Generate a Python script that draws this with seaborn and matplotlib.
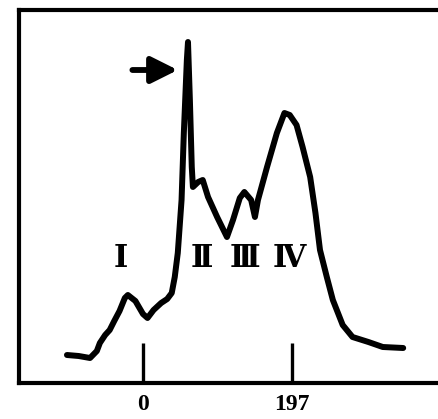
import numpy as np
import pandas as pd
import matplotlib
matplotlib.use("Agg")
import matplotlib.pyplot as plt
import seaborn as sns

# ---- data (channel position vs. arbitrary intensity) ----
channel = [-100.5, -85, -70, -61, -57, -50, -44, -38, -31, -24, -20, -10, 0, 6, 14,
           24, 32, 38, 42, 46, 51, 54, 58, 59.5, 62, 64.5, 66, 73, 79, 86, 98,
           111, 119, 128, 134, 143, 148, 152, 164, 177, 187, 194, 203, 211, 221,
           228, 234, 243, 251, 264, 277, 298, 317, 344]
intensity = [0.28, 0.27, 0.25, 0.32, 0.40, 0.48, 0.53, 0.62, 0.72, 0.85, 0.88, 0.82, 0.69,
             0.65, 0.73, 0.80, 0.84, 0.90, 1.06, 1.30, 1.83, 2.50, 3.23, 3.41, 2.83,
             2.16, 1.96, 2.01, 2.03, 1.86, 1.66, 1.46, 1.63, 1.85, 1.91, 1.83, 1.66,
             1.83, 2.16, 2.50, 2.70, 2.68, 2.58, 2.36, 2.06, 1.70, 1.33, 1.06, 0.83,
             0.58, 0.46, 0.41, 0.36, 0.35]

tick_positions = [0, 197]
tick_labels = ["0", "197"]

peak_names = ["Ⅰ", "Ⅱ", "Ⅲ", "Ⅳ"]
peak_label_x = [-30, 78, 135, 194]
peak_label_y = [1.25, 1.25, 1.25, 1.25]

df = pd.DataFrame({"channel": channel, "intensity": intensity})

sns.set_style("white")
plt.rcParams["font.family"] = ["Liberation Serif", "DejaVu Serif", "DejaVu Sans"]

fig = plt.figure(figsize=(4.38, 4.19), dpi=100)
ax = fig.add_axes([19 / 438, 36 / 419, (438 - 19) / 438, (383 - 10) / 419])

sns.lineplot(data=df, x="channel", y="intensity", sort=False, color="black",
             lw=4.3, ax=ax, solid_capstyle="round", solid_joinstyle="round")

ax.set_xlim(-163.9, 390.0)
ax.set_ylim(0, 3.73)

for side in ["left", "top", "bottom"]:
    ax.spines[side].set_visible(True)
    ax.spines[side].set_linewidth(3.0)
    ax.spines[side].set_color("black")
ax.spines["right"].set_visible(False)

ax.set_xticks(tick_positions)
ax.set_xticklabels(tick_labels, fontsize=17, fontweight="bold",
                   family=["Liberation Serif", "DejaVu Serif"])
ax.tick_params(axis="x", direction="in", length=29, width=2.4, pad=8,
               bottom=True, top=False, colors="black")
ax.set_yticks([])
ax.set_xlabel("")
ax.set_ylabel("")

for name, lx, ly in zip(peak_names, peak_label_x, peak_label_y):
    ax.text(lx, ly, name, ha="center", va="center", fontsize=22, fontweight="bold",
            family=["DejaVu Serif", "DejaVu Sans"], color="black")

ax.annotate("", xy=(46, 3.13), xytext=(-14, 3.13),
            arrowprops=dict(arrowstyle="-|>,head_length=0.8,head_width=0.4",
                            mutation_scale=20, lw=4.2, color="black",
                            shrinkA=0, shrinkB=0))

fig.savefig("out.png", dpi=100)
